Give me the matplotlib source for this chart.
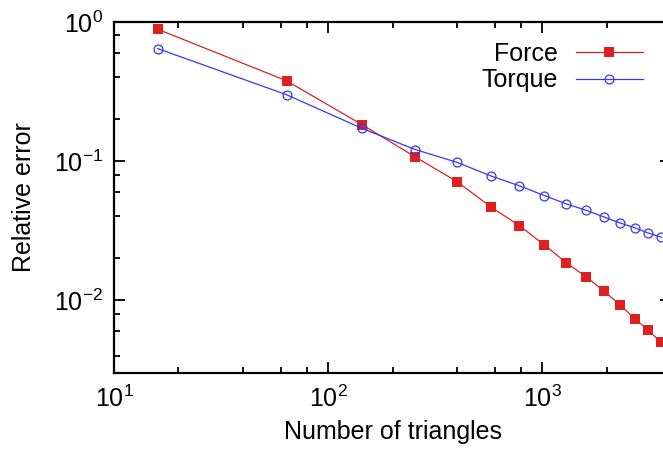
import matplotlib

matplotlib.use("Agg")
import matplotlib.pyplot as plt
from matplotlib.ticker import LogLocator, NullFormatter, FixedLocator


# mesh sizes: number of triangles on the sphere
triangles = [16, 64, 144, 256, 400, 576, 784, 1024, 1296, 1600, 1936, 2304, 2704, 3136, 3600]
force_err = [0.887, 0.378, 0.183, 0.107, 0.0713, 0.0469, 0.0343, 0.0250, 0.0186,
             0.0148, 0.0117, 0.00931, 0.00739, 0.00607, 0.00498]
torque_err = [0.644, 0.300, 0.172, 0.121, 0.098, 0.0783, 0.0664, 0.0566, 0.0493,
              0.0444, 0.0398, 0.0360, 0.0332, 0.0304, 0.0284]

x_ticks = [10, 100, 1000]
x_tick_labels = [r"$\mathregular{10^{1}}$", r"$\mathregular{10^{2}}$", r"$\mathregular{10^{3}}$"]
y_ticks = [0.01, 0.1, 1.0]
y_tick_labels = [r"$\mathregular{10^{-2}}$", r"$\mathregular{10^{-1}}$", r"$\mathregular{10^{0}}$"]

RED = "#e02020"
BLUE = "#3838f0"
W, H = 663, 458
DPI = 100

plt.rcParams["font.family"] = ["Liberation Sans", "DejaVu Sans"]
plt.rcParams["mathtext.fontset"] = "custom"
plt.rcParams["mathtext.rm"] = "Liberation Sans"
plt.rcParams["mathtext.it"] = "Liberation Sans:italic"
plt.rcParams["font.size"] = 18

fig = plt.figure(figsize=(W / DPI, H / DPI), dpi=DPI)
left, right, top, bottom = 114, 671, 22, 373
ax = fig.add_axes([left / W, (H - bottom) / H, (right - left) / W, (bottom - top) / H])

ax.plot(triangles, force_err, color=RED, lw=0.9, marker="s", ms=6.8,
        mfc=RED, mec=RED, mew=0, label="Force")
ax.plot(triangles, torque_err, color=BLUE, lw=0.9, marker="o", ms=6.4,
        mfc="none", mec=BLUE, mew=0.9, label="Torque")

ax.set_xscale("log")
ax.set_yscale("log")
ax.set_xlim(10, 4000)
ax.set_ylim(0.003, 1.0)

ax.xaxis.set_major_locator(FixedLocator(x_ticks))
ax.set_xticklabels(x_tick_labels)
ax.yaxis.set_major_locator(FixedLocator(y_ticks))
ax.set_yticklabels(y_tick_labels)
ax.xaxis.set_minor_locator(LogLocator(base=10, subs=[2, 4, 6, 8]))
ax.yaxis.set_minor_locator(LogLocator(base=10, subs=[2, 4, 6, 8]))
ax.xaxis.set_minor_formatter(NullFormatter())
ax.yaxis.set_minor_formatter(NullFormatter())

for side in ax.spines.values():
    side.set_linewidth(1.6)
ax.tick_params(which="both", direction="in", top=True, right=True, width=1.3)
ax.tick_params(which="major", length=8, pad=9)
ax.tick_params(which="minor", length=4)
ax.tick_params(axis="y", which="major", pad=8)

ax.set_xlabel("Number of triangles", labelpad=6)
ax.set_ylabel("Relative error", labelpad=13)

leg = ax.legend(loc="upper right", bbox_to_anchor=(643 / W, (H - 42) / H),
                bbox_transform=fig.transFigure, frameon=False, markerfirst=False,
                handlelength=2.7, handletextpad=0.7, borderpad=0, borderaxespad=0,
                labelspacing=0.1, numpoints=1)

fig.savefig("out.png", dpi=DPI)
plt.close(fig)
